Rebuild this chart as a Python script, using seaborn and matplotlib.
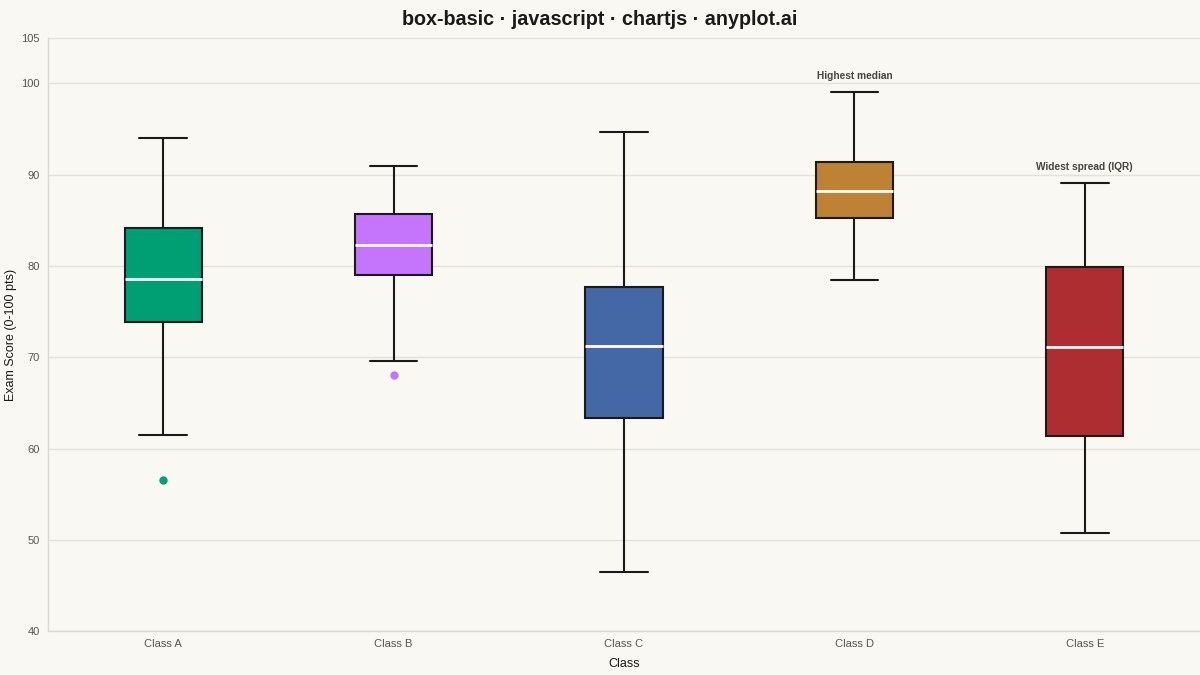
import numpy as np
import pandas as pd
import matplotlib
matplotlib.use('Agg')
import matplotlib.pyplot as plt
import seaborn as sns

# Five-number summary per class (whisker low, Q1, median, Q3, whisker high)
classes = ['Class A', 'Class B', 'Class C', 'Class D', 'Class E']
whisker_low = [61.5, 69.6, 46.5, 78.5, 50.7]
q1 = [73.9, 79.0, 63.3, 85.3, 61.4]
median = [78.6, 82.3, 71.2, 88.2, 71.1]
q3 = [84.2, 85.7, 77.7, 91.4, 79.9]
whisker_high = [94.0, 91.0, 94.7, 99.1, 89.1]

# Outliers
outlier_class = ['Class A', 'Class B']
outlier_score = [56.6, 68.1]

colors = ['#009E73', '#C475FC', '#4467A5', '#BD8233', '#AE2D30']

bg = '#FAF8F2'

# long table: the five summary values per class
rows = []
for i, c in enumerate(classes):
    for v in (whisker_low[i], q1[i], median[i], q3[i], whisker_high[i]):
        rows.append({'Class': c, 'Score': v})
df = pd.DataFrame(rows)
df_out = pd.DataFrame({'Class': outlier_class, 'Score': outlier_score})

sns.set_theme(style='whitegrid')
plt.rcParams['font.family'] = ['Liberation Sans', 'DejaVu Sans']

fig, ax = plt.subplots(figsize=(12, 6.75), dpi=100)
fig.patch.set_facecolor(bg)
ax.set_facecolor(bg)

box_w = 0.335
sns.boxplot(data=df, x='Class', y='Score', hue='Class', palette=colors,
            order=classes, width=box_w, whis=1.5, showfliers=False,
            saturation=1, linecolor='#1a1a1a', linewidth=1.5,
            medianprops={'color': 'white', 'linewidth': 2},
            legend=False, ax=ax)

# widen whisker caps a bit (Chart.js style)
for ln in ax.lines:
    xd, yd = np.asarray(ln.get_xdata(), float), np.asarray(ln.get_ydata(), float)
    if len(xd) == 2 and yd[0] == yd[1]:
        w = abs(xd[1] - xd[0])
        if abs(w - 0.5 * box_w) < 0.02:
            c = xd.mean()
            ln.set_xdata([c - 0.103, c + 0.103])

sns.stripplot(data=df_out, x='Class', y='Score', hue='Class',
              palette={'Class A': colors[0], 'Class B': colors[1]},
              order=classes, jitter=False, size=6, legend=False, ax=ax)

# annotations
ax.annotate('Highest median', xy=(3, whisker_high[3]), xytext=(0, 8),
            textcoords='offset points', ha='center', va='bottom',
            fontsize=7.3, fontweight='bold', color='#444444')
ax.annotate('Widest spread (IQR)', xy=(4, whisker_high[4]), xytext=(0, 8),
            textcoords='offset points', ha='center', va='bottom',
            fontsize=7.3, fontweight='bold', color='#444444')

ax.set_ylim(40, 105)
ax.set_xlim(-0.5, 4.5)
ax.set_yticks([40, 50, 60, 70, 80, 90, 100, 105])
ax.grid(axis='y', color='#E4E1DA', linewidth=1)
ax.grid(axis='x', visible=False)
for s in ['top', 'right']:
    ax.spines[s].set_visible(False)
for s in ['left', 'bottom']:
    ax.spines[s].set_color('#DCD9D2')
    ax.spines[s].set_linewidth(1)
ax.tick_params(axis='both', colors='#555555', labelsize=8, length=0, pad=6)

fig.suptitle('box-basic · javascript · chartjs · anyplot.ai', x=0.5, y=0.985,
             va='top', fontsize=14.2, fontweight='bold', color='#1a1a1a')
ax.set_xlabel('Class', fontsize=9, color='#1a1a1a', labelpad=6)
ax.set_ylabel('Exam Score (0-100 pts)', fontsize=9, color='#1a1a1a', labelpad=3)

fig.subplots_adjust(left=0.04, right=1.0, top=0.944, bottom=0.065)
fig.savefig('out.png', dpi=100, facecolor=bg)
